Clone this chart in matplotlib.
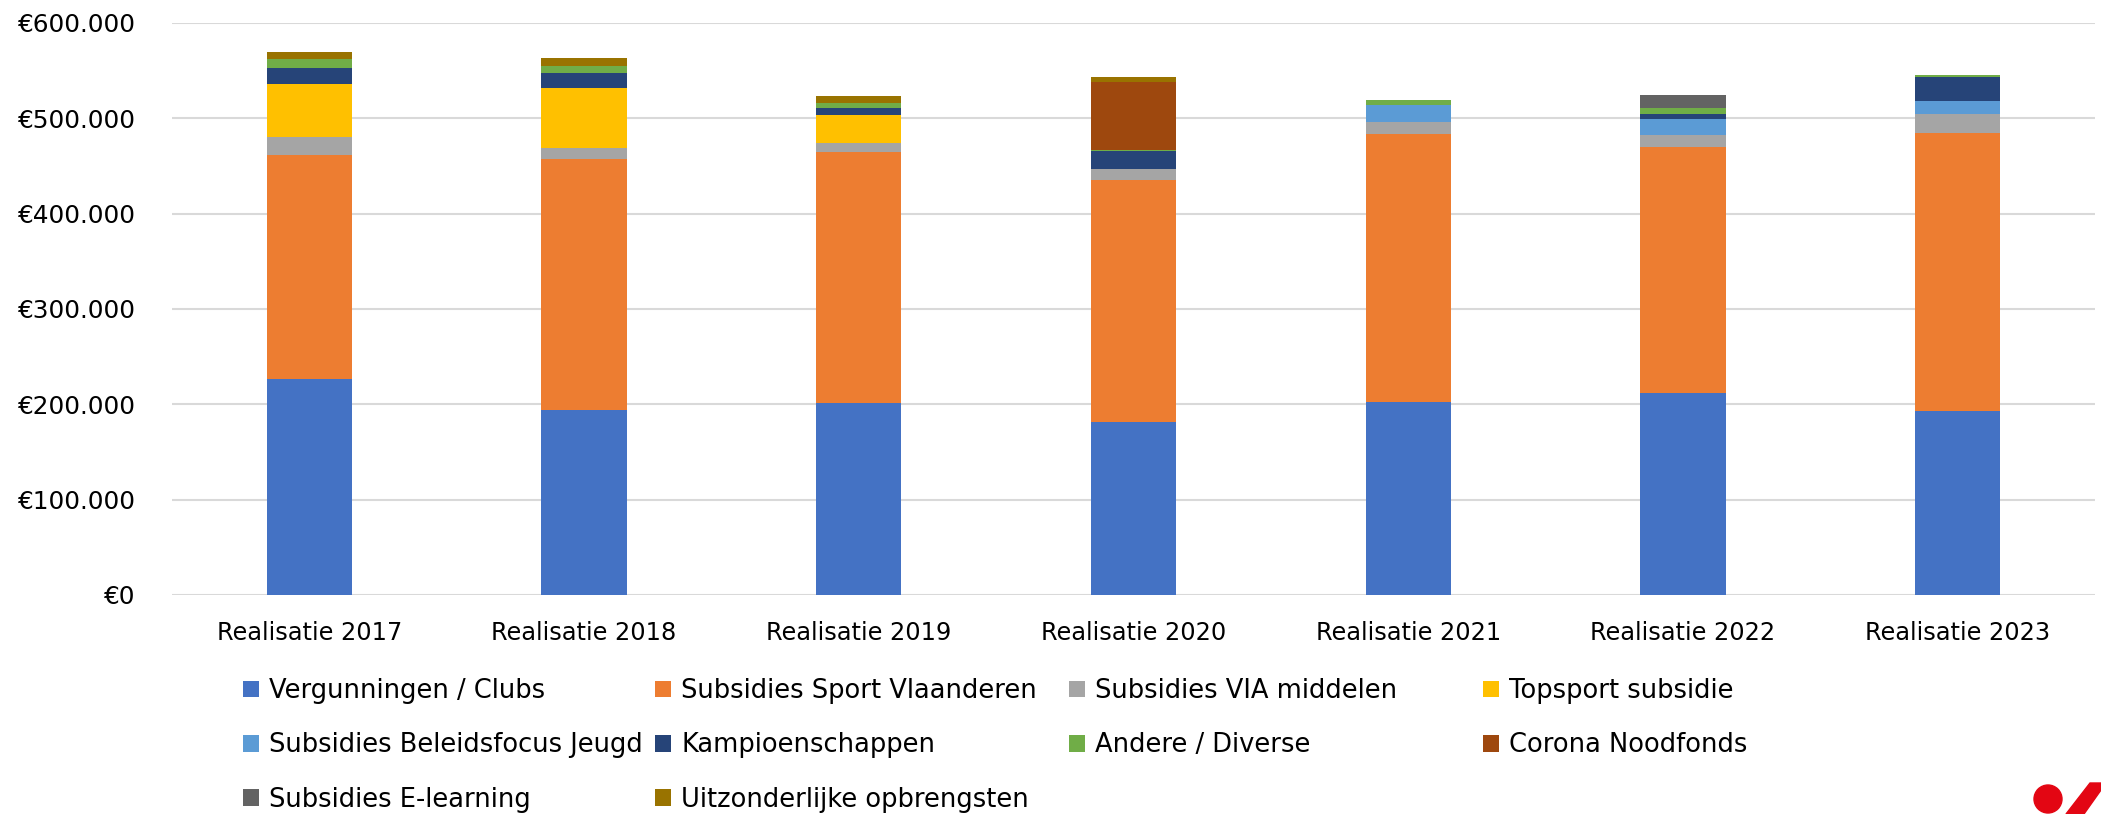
import numpy as np
import matplotlib
matplotlib.use("Agg")
from matplotlib import pyplot as plt
from matplotlib.ticker import FuncFormatter
from matplotlib.patches import Ellipse, Polygon

plt.rcParams['font.family'] = ['DejaVu Sans']

years = ['Realisatie 2017', 'Realisatie 2018', 'Realisatie 2019', 'Realisatie 2020',
         'Realisatie 2021', 'Realisatie 2022', 'Realisatie 2023']

series_names = ['Vergunningen / Clubs', 'Subsidies Sport Vlaanderen', 'Subsidies VIA middelen',
                'Topsport subsidie', 'Subsidies Beleidsfocus Jeugd', 'Kampioenschappen',
                'Andere / Diverse', 'Corona Noodfonds', 'Subsidies E-learning',
                'Uitzonderlijke opbrengsten']

vergunningen = [226000, 194000, 201000, 181000, 202000, 212000, 192500]
sport_vlaanderen = [235000, 263000, 263000, 254000, 281000, 257600, 291800]
via_middelen = [19500, 12200, 9500, 11500, 13300, 12600, 20200]
topsport = [55000, 62900, 29700, 0, 0, 0, 0]
beleidsfocus_jeugd = [0, 0, 0, 0, 17200, 16700, 14000]
kampioenschappen = [16800, 15700, 7000, 19500, 0, 5900, 24500]
andere = [9800, 6700, 5200, 800, 5900, 6000, 2000]
corona = [0, 0, 0, 71200, 0, 0, 0]
e_learning = [0, 0, 0, 0, 0, 13600, 0]
uitzonderlijk = [7000, 8400, 8100, 5000, 0, 0, 0]

colors = ['#4472C4', '#ED7D31', '#A5A5A5', '#FFC000', '#5B9BD5',
          '#264478', '#70AD47', '#9E480E', '#636363', '#997300']

data = [vergunningen, sport_vlaanderen, via_middelen, topsport, beleidsfocus_jeugd,
        kampioenschappen, andere, corona, e_learning, uitzonderlijk]

fig = plt.figure(figsize=(21.01, 8.14), dpi=100)
ax = fig.add_axes([172 / 2101, 1 - 595 / 814, 1923 / 2101, (595 - 22.8) / 814])

x = np.arange(len(years))
bottom = np.zeros(len(years))
handles = []
for name, vals, c in zip(series_names, data, colors):
    vals = np.array(vals, dtype=float)
    bars = ax.bar(x, vals, 0.31, bottom=bottom, color=c, label=name, zorder=3)
    handles.append(bars)
    bottom += vals

ax.set_xlim(-0.5, len(years) - 0.5)
ax.set_ylim(0, 600000)
ax.set_yticks(np.arange(0, 600001, 100000))
ax.yaxis.set_major_formatter(FuncFormatter(lambda v, p: '€' + f'{int(v):,}'.replace(',', '.')))
ax.set_xticks(x)
ax.set_xticklabels(years)
ax.tick_params(axis='y', length=0, pad=26, labelsize=17.8, labelcolor='#000000')
ax.tick_params(axis='x', length=0, pad=19, labelsize=17.3, labelcolor='#000000')
ax.grid(axis='y', color='#D9D9D9', linewidth=1.5, zorder=0)
ax.set_axisbelow(True)
for s in ax.spines.values():
    s.set_visible(False)

# legend laid out in 4 equal-width columns like the original
col_x = [243, 655, 1069, 1483]
for j in range(4):
    idx = [i for i in range(j, len(series_names), 4)]
    fig.legend([handles[i] for i in idx], [series_names[i] for i in idx],
               loc='upper left', bbox_to_anchor=(col_x[j] / 2101, 1 - 678 / 814),
               frameon=False, fontsize=18.5, ncol=1, handlelength=0.62, handleheight=0.62,
               handletextpad=0.4, labelspacing=1.1, borderaxespad=0, borderpad=0)

# red logo fragment bottom right
fig.patches.append(Ellipse((2048 / 2101, 1 - 799 / 814), 28 / 2101, 28 / 814,
                           transform=fig.transFigure, color='#E30613'))
fig.patches.append(Polygon([(2066 / 2101, 0), (2084 / 2101, 0),
                            (2101 / 2101, 1 - 790 / 814), (2101 / 2101, 1 - 783 / 814),
                            (2090 / 2101, 1 - 783 / 814)], closed=True,
                           transform=fig.transFigure, color='#E30613'))

fig.savefig('out.png', dpi=100)
